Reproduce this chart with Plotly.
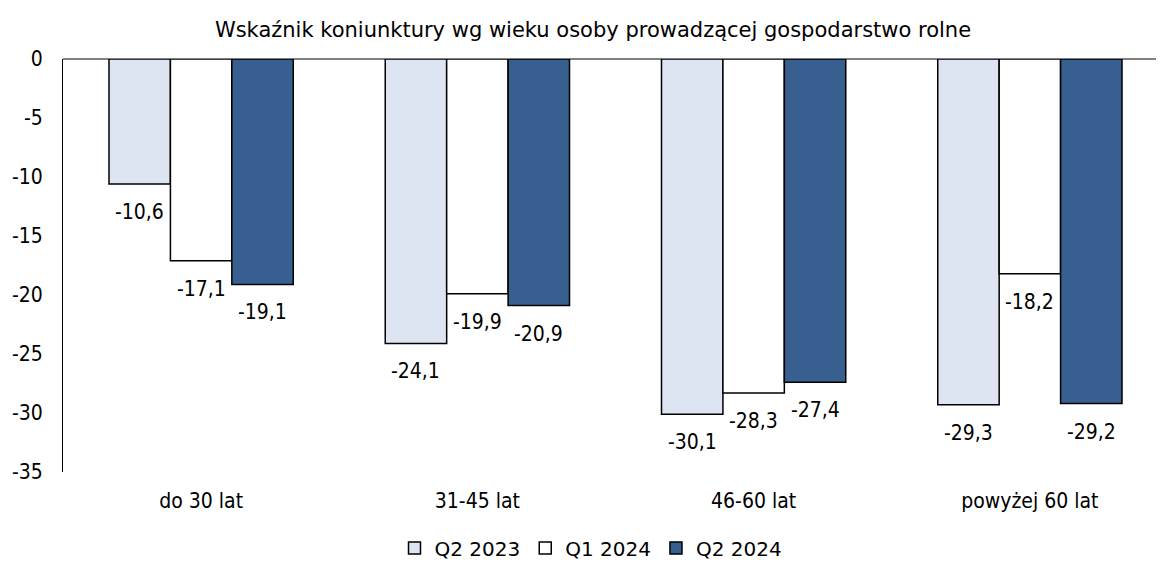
import plotly.graph_objects as go

categories = ["do 30 lat", "31-45 lat", "46-60 lat", "powyżej 60 lat"]
series_names = ["Q2 2023", "Q1 2024", "Q2 2024"]
q2_2023 = [-10.6, -24.1, -30.1, -29.3]
q1_2024 = [-17.1, -19.9, -28.3, -18.2]
q2_2024 = [-19.1, -20.9, -27.4, -29.2]
y_ticks = [0, -5, -10, -15, -20, -25, -30, -35]

COND = "DejaVu Sans Condensed, DejaVu Sans, sans-serif"
NORM = "DejaVu Sans, sans-serif"
colors = ["#DCE5F1", "#FFFFFF", "#375F8F"]

# page body margin offset (browser default 8px)
OFF = 8
W, H = 1164, 572

fig = go.Figure()
all_series = [q2_2023, q1_2024, q2_2024]
for name, vals, col in zip(series_names, all_series, colors):
    fig.add_trace(go.Bar(
        x=categories, y=vals, name=name,
        marker=dict(color=col, line=dict(color="#000000", width=1.5)),
    ))

# data labels below bar ends
bar_px = 61.5
for i, vals in enumerate(all_series):
    for c, v in zip(categories, vals):
        fig.add_annotation(
            x=c, y=v, xref="x", yref="y",
            text=f"{v:.1f}".replace(".", ","), showarrow=False,
            xshift=(i - 1) * bar_px, yshift=-28, yanchor="middle",
            font=dict(family=COND, size=21, color="#000000"),
        )

fig.update_layout(
    width=W, height=H,
    margin=dict(l=61 - OFF, r=4, t=59 - OFF, b=H - 472 + OFF),
    paper_bgcolor="white", plot_bgcolor="white",
    barmode="group", bargap=0.333, bargroupgap=0,
    font=dict(family=COND, size=21, color="#000000"),
    title=dict(text="Wskaźnik koniunktury wg wieku osoby prowadzącej gospodarstwo rolne",
               x=(593 - OFF) / W, xanchor="center", xref="container",
               y=1 - (30 - OFF) / H, yanchor="middle", yref="container",
               font=dict(family=NORM, size=21, color="#000000")),
    showlegend=True,
    legend=dict(orientation="h", x=(591 - OFF) / W, xanchor="center", xref="container",
                y=1 - (548 - OFF) / H, yanchor="middle", yref="container",
                font=dict(family=NORM, size=20), itemwidth=30,
                traceorder="normal"),
)
fig.update_yaxes(range=[-35, 0], tickvals=y_ticks, ticktext=[str(t) for t in y_ticks],
                 showgrid=False, zeroline=True, zerolinecolor="#808080", zerolinewidth=2,
                 showline=True, linecolor="#000000", linewidth=1, ticks="",
                 ticklabelstandoff=15)
fig.update_xaxes(showline=False, showgrid=False, ticks="", ticklabelstandoff=14)

fig.write_html("out.html")
